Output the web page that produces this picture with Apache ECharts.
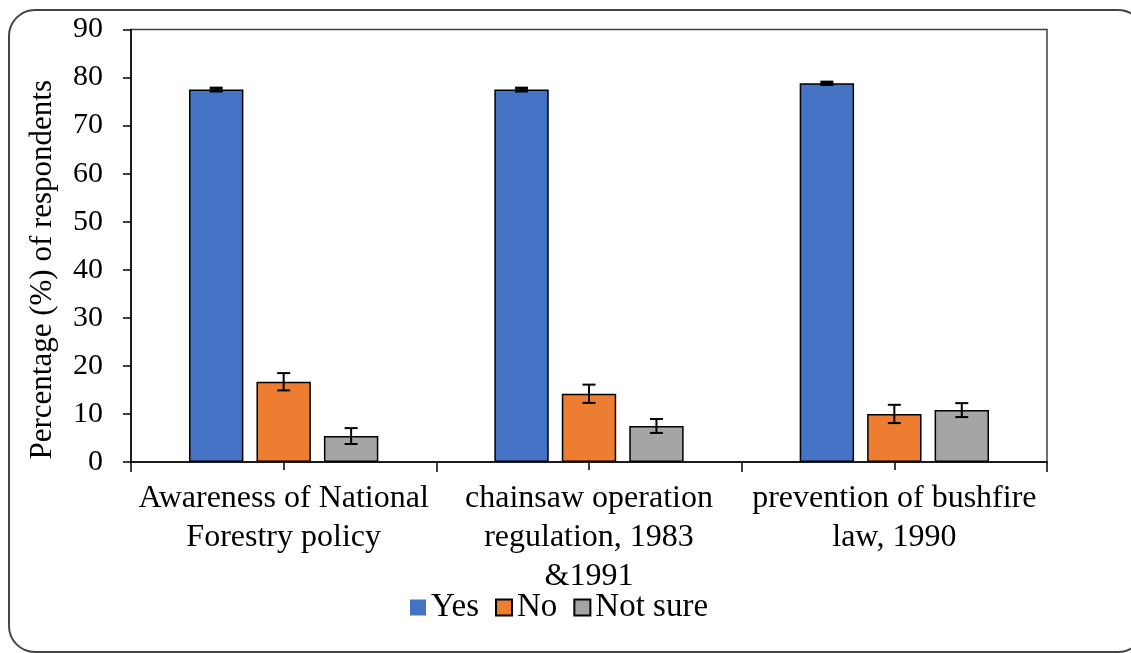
<!DOCTYPE html>
<html>
<head>
<meta charset="utf-8">
<script src="https://cdn.jsdelivr.net/npm/echarts@6/dist/echarts.min.js"></script>
<style>html,body{margin:0;padding:0;background:#fff}#c{width:1131px;height:653px}</style>
</head>
<body>
<div id="c"></div>
<script>
const categories = ['Awareness of National\nForestry policy', 'chainsaw operation\nregulation, 1983\n&1991', 'prevention of bushfire\nlaw, 1990'];
const seriesNames = ['Yes', 'No', 'Not sure'];
const yesValues = [77.5, 77.5, 78.8];
const noValues = [16.7, 14.2, 10.0];
const notSureValues = [5.4, 7.5, 10.8];
const yesErrors = [0.3, 0.3, 0.25];
const noErrors = [1.8, 1.9, 1.9];
const notSureErrors = [1.65, 1.45, 1.45];
const yTicks = [0, 10, 20, 30, 40, 50, 60, 70, 80, 90];

const colors = ['#4472C4', '#ED7D31', '#A5A5A5'];
const CAT_GAP = 0.38, BAR_GAP = 0.24;
const FONT = '"Liberation Serif", "Times New Roman", serif';

function errRenderer(idx) {
  return function (params, api) {
    const cat = api.value(0), val = api.value(1), err = api.value(2);
    const band = api.size([1, 0])[0];
    const avail = band * (1 - CAT_GAP);
    const n = 3;
    const bw = avail / (n + (n - 1) * BAR_GAP);
    const total = n * bw + (n - 1) * bw * BAR_GAP;
    const cx = api.coord([cat, val])[0] - total / 2 + bw / 2 + idx * bw * (1 + BAR_GAP);
    const hi = api.coord([cat, val + err])[1];
    const lo = api.coord([cat, val - err])[1];
    const cap = 6.5;
    const st = { stroke: '#000', lineWidth: idx === 0 ? 3 : 2 };
    return { type: 'group', children: [
      { type: 'line', shape: { x1: cx, y1: hi, x2: cx, y2: lo }, style: st },
      { type: 'line', shape: { x1: cx - cap, y1: hi, x2: cx + cap, y2: hi }, style: st },
      { type: 'line', shape: { x1: cx - cap, y1: lo, x2: cx + cap, y2: lo }, style: st }
    ]};
  };
}

const vals = [yesValues, noValues, notSureValues];
const errs = [yesErrors, noErrors, notSureErrors];

const barSeries = seriesNames.map((name, i) => ({
  name: name, type: 'bar', data: vals[i],
  barCategoryGap: (CAT_GAP * 100) + '%', barGap: (BAR_GAP * 100) + '%',
  itemStyle: { color: colors[i], borderColor: '#000', borderWidth: 1.5 },
  z: 2
}));
const errSeries = seriesNames.map((name, i) => ({
  type: 'custom', name: name + ' err', renderItem: errRenderer(i),
  data: vals[i].map((v, k) => [k, v, errs[i][k]]),
  encode: { x: 0, y: 1 }, z: 5, silent: true
}));

const chart = echarts.init(document.getElementById('c'));
chart.setOption({
  animation: false,
  textStyle: { fontFamily: FONT },
  graphic: [{
    type: 'rect', shape: { x: 9, y: 10, width: 1135, height: 642, r: 26 },
    style: { fill: 'none', stroke: '#444', lineWidth: 2 }, z: 0
  }],
  grid: { left: 131, right: 84, top: 29.5, bottom: 191, show: true, borderColor: '#404040', borderWidth: 1.5 },
  legend: {
    data: seriesNames.map((n, i) => i === 0 ? { name: n, itemStyle: { borderWidth: 0 } } : { name: n }),
    left: 405, top: 586, itemWidth: 16, itemHeight: 16, itemGap: 16,
    icon: 'rect',
    textStyle: { fontFamily: FONT, fontSize: 33, color: '#000', padding: [0, 0, 0, 0] }
  },
  xAxis: [{
    type: 'category', data: categories,
    axisLine: { lineStyle: { color: '#000', width: 1.5 } },
    axisTick: { show: true, length: 10, lineStyle: { color: '#000', width: 1.5 } },
    axisLabel: { fontFamily: FONT, fontSize: 32, color: '#000', lineHeight: 39, margin: 17, interval: 0 }
  }, {
    type: 'category', data: categories, position: 'bottom',
    axisLine: { show: false }, axisLabel: { show: false },
    axisTick: { show: true, alignWithLabel: true, inside: true, length: 6, lineStyle: { color: '#000', width: 1.5 } }
  }, {
    type: 'category', data: categories, position: 'bottom',
    axisLine: { show: false }, axisLabel: { show: false },
    axisTick: { show: true, alignWithLabel: true, length: 8, lineStyle: { color: '#000', width: 1.5 } }
  }],
  yAxis: {
    type: 'value', min: yTicks[0], max: yTicks[yTicks.length - 1], interval: yTicks[1] - yTicks[0],
    name: 'Percentage (%) of respondents', nameLocation: 'middle', nameGap: 73, nameRotate: 90,
    nameTextStyle: { fontFamily: FONT, fontSize: 31, color: '#000', padding: [0, 48, 0, 0] },
    axisLine: { show: true, lineStyle: { color: '#000', width: 1.5 } },
    axisTick: { show: true, length: 8, lineStyle: { color: '#000', width: 1.5 } },
    axisLabel: { fontFamily: FONT, fontSize: 30, color: '#000', margin: 28 },
    splitLine: { show: false }
  },
  series: barSeries.concat(errSeries)
});
</script>
</body>
</html>
